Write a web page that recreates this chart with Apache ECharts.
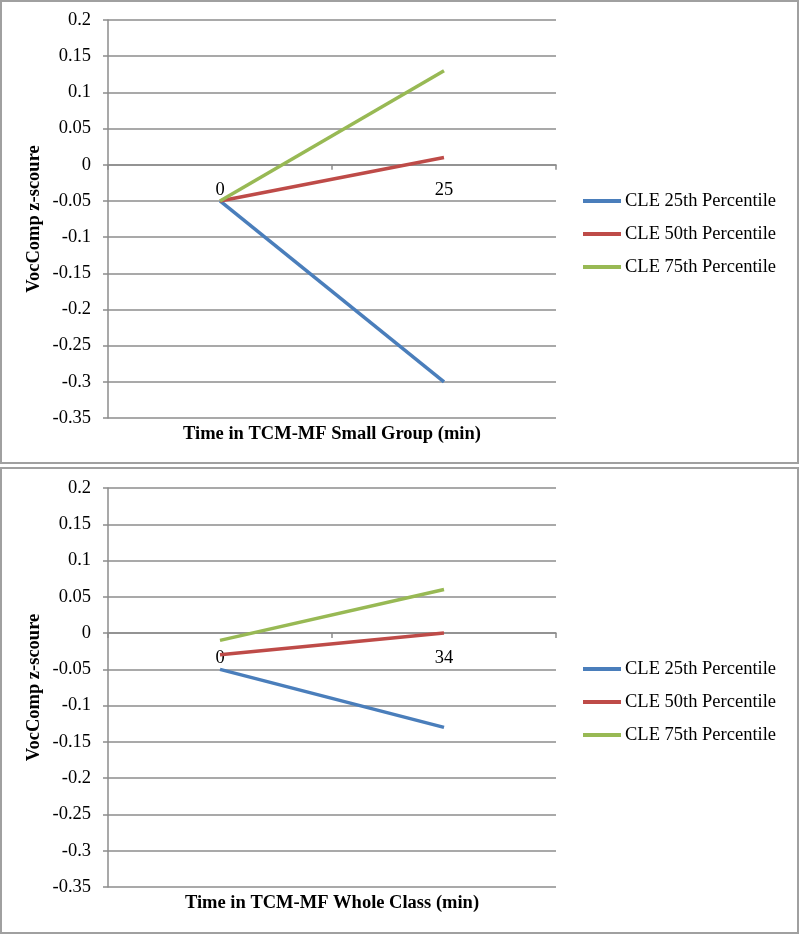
<!DOCTYPE html>
<html><head><meta charset="utf-8">
<script src="https://cdn.jsdelivr.net/npm/echarts@6/dist/echarts.min.js"></script>
<style>html,body{margin:0;padding:0;background:#fff}#c{width:800px;height:935px}</style>
</head><body><div id="c"></div>
<script>
const seriesNames = ['CLE 25th Percentile', 'CLE 50th Percentile', 'CLE 75th Percentile'];
const colors = ['#4A7EBB', '#BE4B48', '#98B954'];
// Panel 1: Small Group
const cats1 = ['0', '25'];
const p1_25 = [-0.05, -0.30];
const p1_50 = [-0.05, 0.01];
const p1_75 = [-0.05, 0.13];
// Panel 2: Whole Class
const cats2 = ['0', '34'];
const p2_25 = [-0.05, -0.13];
const p2_50 = [-0.03, 0.00];
const p2_75 = [-0.01, 0.06];
const xTitles = ['Time in TCM-MF Small Group (min)', 'Time in TCM-MF Whole Class (min)'];
const yTitle = 'VocComp z-scoure';
const yMin = -0.35, yMax = 0.2, yStep = 0.05;

const FONT = '"Liberation Serif", "DejaVu Serif", serif';
const grid = [
  {left: 108, width: 448, top: 20, height: 398},
  {left: 108, width: 448, top: 488, height: 399}
];
function yAx(i){
  return {
    type: 'value', gridIndex: i, min: yMin, max: yMax, interval: yStep,
    name: yTitle, nameLocation: 'middle', nameRotate: 90, nameGap: 64, nameMoveOverlap: false,
    nameTextStyle: {fontFamily: FONT, fontWeight: 'bold', fontSize: 18.5, color: '#000'},
    axisLine: {show: true, lineStyle: {color: '#8c8c8c', width: 1.5}},
    axisTick: {show: true, length: 5, lineStyle: {color: '#8c8c8c', width: 1.5}},
    axisLabel: {fontFamily: FONT, fontSize: 18.5, color: '#000', margin: 17,
      formatter: v => String(+v.toFixed(2))},
    splitLine: {show: true, lineStyle: {color: '#8c8c8c', width: 1.5}}
  };
}
// x axis sits on the zero line: offset it up from the bottom of the grid
function xAx(i, cats){
  const h = grid[i].height;
  const zeroFromBottom = h * (0 - yMin) / (yMax - yMin);
  return {
    type: 'category', gridIndex: i, data: cats, boundaryGap: true,
    position: 'bottom', offset: -zeroFromBottom,
    axisLine: {show: true, onZero: false, lineStyle: {color: '#8c8c8c', width: 1.5}},
    axisTick: {show: true, length: 5, lineStyle: {color: '#8c8c8c', width: 1.5}},
    axisLabel: {fontFamily: FONT, fontSize: 18.5, color: '#000', margin: 16},
    splitLine: {show: false}
  };
}
function line(name, data, idx, color){
  return {type: 'line', name, data, xAxisIndex: idx, yAxisIndex: idx,
    symbol: 'none', lineStyle: {color, width: 3.5}, itemStyle: {color}, animation: false};
}
function legend(top){
  return {orient: 'vertical', left: 583, top, padding: 0, itemWidth: 38, itemHeight: 4, icon: 'rect',
    itemGap: 11, data: seriesNames,
    textStyle: {fontFamily: FONT, fontSize: 18.5, color: '#000', lineHeight: 22, padding: [0,0,0,-1]}};
}
const chart = echarts.init(document.getElementById('c'), null, {renderer: 'canvas'});
chart.setOption({
  animation: false,
  grid,
  xAxis: [xAx(0, cats1), xAx(1, cats2)],
  yAxis: [yAx(0), yAx(1)],
  legend: [legend(190), legend(658)],
  title: [
    {text: xTitles[0], left: 332, top: 425, textAlign: 'center', padding: 0,
      textStyle: {fontFamily: FONT, fontWeight: 'bold', fontSize: 18.5, color: '#000'}},
    {text: xTitles[1], left: 332, top: 894, textAlign: 'center', padding: 0,
      textStyle: {fontFamily: FONT, fontWeight: 'bold', fontSize: 18.5, color: '#000'}}
  ],
  graphic: [
    {type: 'rect', shape: {x: 1, y: 1, width: 797, height: 462}, style: {fill: 'none', stroke: '#a0a0a0', lineWidth: 2}, silent: true},
    {type: 'rect', shape: {x: 1, y: 468, width: 797, height: 465}, style: {fill: 'none', stroke: '#a0a0a0', lineWidth: 2}, silent: true}
  ],
  series: [
    line(seriesNames[0], p1_25, 0, colors[0]),
    line(seriesNames[1], p1_50, 0, colors[1]),
    line(seriesNames[2], p1_75, 0, colors[2]),
    line(seriesNames[0], p2_25, 1, colors[0]),
    line(seriesNames[1], p2_50, 1, colors[1]),
    line(seriesNames[2], p2_75, 1, colors[2])
  ]
});
</script></body></html>
